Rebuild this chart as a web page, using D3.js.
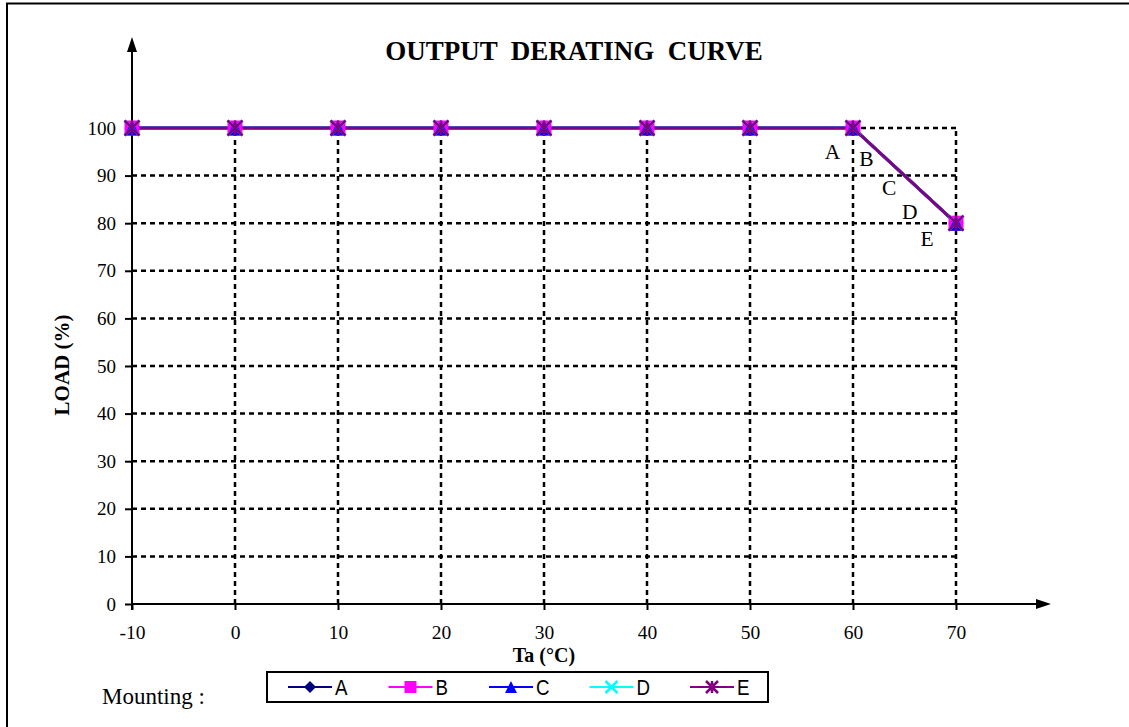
<!DOCTYPE html>
<html><head><meta charset="utf-8">
<script src="https://cdn.jsdelivr.net/npm/d3@7"></script>
<style>body{margin:0;background:#fff}svg{display:block}</style>
</head><body>
<svg id="c" width="1129" height="727"></svg>
<script>
const temps = [-10, 0, 10, 20, 30, 40, 50, 60, 70];
const loads = [100, 100, 100, 100, 100, 100, 100, 100, 80];
const seriesNames = ["A", "B", "C", "D", "E"];
const seriesColors = ["#000080", "#FF00FF", "#0000FF", "#00FFFF", "#800080"];
const xTicks = [-10, 0, 10, 20, 30, 40, 50, 60, 70];
const yTicks = [0, 10, 20, 30, 40, 50, 60, 70, 80, 90, 100];
const curveLabels = ["A", "B", "C", "D", "E"];
const curveLabelX = [58, 61.3, 63.5, 65.5, 67.2];
const curveLabelY = [95, 93.7, 87.6, 82.4, 76.7];

const svg = d3.select("#c");
const serif = "'Liberation Serif','Times New Roman',serif";
const sans = "'Liberation Sans',Arial,sans-serif";
const x = d3.scaleLinear().domain([-10, 70]).range([132, 956]);
const y = d3.scaleLinear().domain([0, 100]).range([604, 128]);

// outer border
svg.append("path").attr("d","M7,727 V3.5 H1129").attr("fill","none").attr("stroke","#000").attr("stroke-width",2);

// grid
const g = svg.append("g");
g.selectAll(".hg").data(yTicks.filter(d=>d>0)).enter().append("line")
  .attr("x1", x(-10)).attr("x2", x(70)).attr("y1", d=>y(d)).attr("y2", d=>y(d))
  .attr("stroke","#000").attr("stroke-width",2.5).attr("stroke-dasharray","5,4");
g.selectAll(".vg").data(xTicks.filter(d=>d>-10)).enter().append("line")
  .attr("x1", d=>x(d)).attr("x2", d=>x(d)).attr("y1", y(0)).attr("y2", y(100))
  .attr("stroke","#000").attr("stroke-width",2.5).attr("stroke-dasharray","5,4");

// axes
const xAxis = d3.axisBottom(x).tickValues(xTicks).tickSize(6).tickPadding(15).tickFormat(d=>String(d));
const xa = svg.append("g").attr("transform",`translate(0,${y(0)})`).call(xAxis);
xa.select(".domain").remove();
xa.selectAll("line").attr("stroke","#000").attr("stroke-width",2);
xa.selectAll("text").attr("font-family",serif).attr("font-size",19.5).attr("fill","#000");

const yAxis = d3.axisLeft(y).tickValues(yTicks).tickSize(7).tickPadding(9).tickFormat(d=>String(d));
const ya = svg.append("g").attr("transform",`translate(${x(-10)},0)`).call(yAxis);
ya.select(".domain").remove();
ya.selectAll("line").attr("stroke","#000").attr("stroke-width",2);
ya.selectAll("text").attr("font-family",serif).attr("font-size",19).attr("fill","#000");

// axis lines with arrows
svg.append("line").attr("x1",x(-10)).attr("x2",1040).attr("y1",y(0)).attr("y2",y(0)).attr("stroke","#000").attr("stroke-width",2);
svg.append("path").attr("d",`M1051,${y(0)} L1036,${y(0)-5} L1036,${y(0)+5} Z`).attr("fill","#000");
svg.append("line").attr("x1",x(-10)).attr("x2",x(-10)).attr("y1",y(0)+6).attr("y2",48).attr("stroke","#000").attr("stroke-width",2);
svg.append("path").attr("d",`M${x(-10)},37 L${x(-10)-5},52 L${x(-10)+5},52 Z`).attr("fill","#000");

// series
const pts = temps.map((t,i)=>[t, loads[i]]);
const line = d3.line().x(d=>x(d[0])).y(d=>y(d[1]));

function marker(sel, idx, cx, cy, s) {
  const c = seriesColors[idx];
  if (idx===0) sel.append("path").attr("d",`M${cx},${cy-s} L${cx+s},${cy} L${cx},${cy+s} L${cx-s},${cy} Z`).attr("fill",c);
  else if (idx===1) sel.append("rect").attr("x",cx-s).attr("y",cy-s).attr("width",2*s).attr("height",2*s).attr("fill",c);
  else if (idx===2) sel.append("path").attr("d",`M${cx},${cy-s} L${cx+s},${cy+s} L${cx-s},${cy+s} Z`).attr("fill",c);
  else if (idx===3) sel.append("path").attr("d",`M${cx-s},${cy-s} L${cx+s},${cy+s} M${cx+s},${cy-s} L${cx-s},${cy+s}`).attr("stroke",c).attr("stroke-width",2.5);
  else sel.append("path").attr("d",`M${cx-s},${cy-s} L${cx+s},${cy+s} M${cx+s},${cy-s} L${cx-s},${cy+s} M${cx},${cy-s} L${cx},${cy+s}`).attr("stroke",c).attr("stroke-width",2.5);
}

seriesNames.forEach((n,i)=>{
  svg.append("path").datum(pts).attr("d",line).attr("fill","none").attr("stroke",seriesColors[i]).attr("stroke-width",3);
});
seriesNames.forEach((n,i)=>{
  const mg = svg.append("g");
  pts.forEach(p=>marker(mg, i, x(p[0]), y(p[1]), 7.5));
});

// curve labels
svg.selectAll(".cl").data(curveLabels).enter().append("text")
  .attr("x",(d,i)=>x(curveLabelX[i])).attr("y",(d,i)=>y(curveLabelY[i]))
  .attr("dy","0.35em").attr("text-anchor","middle")
  .attr("font-family",serif).attr("font-size",21.5).text(d=>d);

// titles
svg.append("text").attr("x",574).attr("y",60).attr("text-anchor","middle").style("white-space","pre")
  .attr("font-family",serif).attr("font-weight","bold").attr("font-size",27).text("OUTPUT  DERATING  CURVE");
svg.append("text").attr("x",544).attr("y",662).attr("text-anchor","middle")
  .attr("font-family",serif).attr("font-weight","bold").attr("font-size",20).text("Ta (°C)");
svg.append("text").attr("transform","translate(69,365) rotate(-90)").attr("text-anchor","middle")
  .attr("font-family",serif).attr("font-weight","bold").attr("font-size",21).text("LOAD (%)");
svg.append("text").attr("x",102).attr("y",704)
  .attr("font-family",serif).attr("font-size",23).text("Mounting :");

// legend
svg.append("rect").attr("x",267).attr("y",672).attr("width",501).attr("height",30).attr("fill","none").attr("stroke","#000").attr("stroke-width",2);
seriesNames.forEach((n,i)=>{
  const lx = 288 + i*100.5;
  const lg = svg.append("g");
  lg.append("line").attr("x1",lx).attr("x2",lx+44).attr("y1",687).attr("y2",687).attr("stroke",seriesColors[i]).attr("stroke-width",2);
  marker(lg, i, lx+22, 687, 6);
  lg.append("text").attr("transform",`translate(${lx+47},695) scale(0.85,1)`).attr("font-family",sans).attr("font-size",22).text(n);
});
</script>
</body></html>
